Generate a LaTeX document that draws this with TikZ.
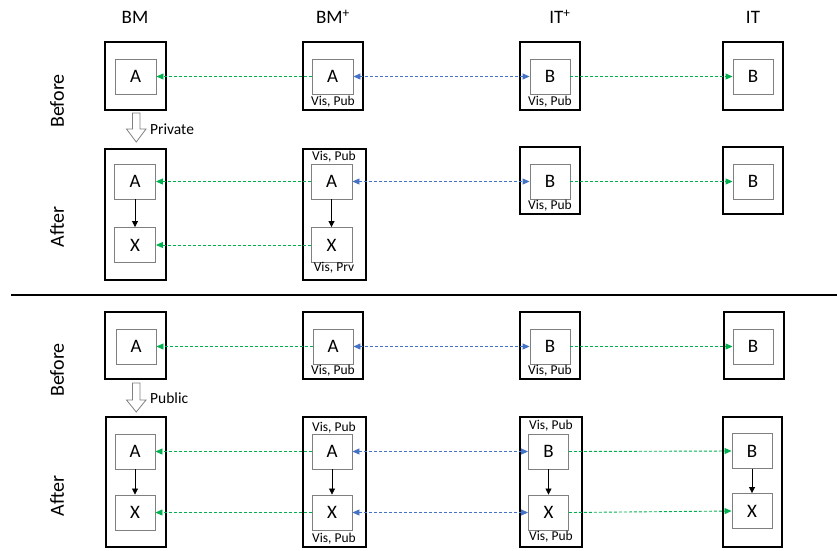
\documentclass[tikz,border=0pt]{standalone}
\usepackage{fontspec}
\setmainfont{Carlito}
\usetikzlibrary{arrows.meta}
\definecolor{cgreen}{HTML}{00B050}
\definecolor{cblue}{HTML}{4472C4}
\definecolor{cgray}{HTML}{808080}
\tikzset{
  outerbox/.style={draw=black, line width=2pt, minimum width=#1, inner sep=0pt},
  inbox/.style={draw=cgray, line width=0.9pt, minimum width=41pt, minimum height=35pt, inner sep=0pt, font=\fontsize{19}{22}\selectfont},
  title/.style={font=\fontsize{19}{22}\selectfont},
  phase/.style={font=\fontsize{20}{24}\selectfont, rotate=90},
  vis/.style={font=\fontsize{13.5}{15}\selectfont, inner sep=0pt},
  change/.style={font=\fontsize{15.5}{18}\selectfont, anchor=west, inner sep=0pt},
  greenarr/.style={draw=cgreen, line width=0.9pt, dash pattern=on 3pt off 2pt, -{Triangle[length=7pt,width=6pt]}},
  bluearr/.style={draw=cblue, line width=0.9pt, dash pattern=on 3pt off 2pt, {Triangle[length=7pt,width=6pt]}-{Triangle[length=7pt,width=6pt]}},
  downarr/.style={draw=black, line width=0.8pt, -{Triangle[length=6pt,width=6pt]}},
  blockarr/.style={draw=cgray, fill=white, line width=0.8pt, line join=miter},
}
\begin{document}
\begin{tikzpicture}[x=1pt,y=-1pt]
\useasboundingbox (0,0) rectangle (837,550);
% titles
\node[title] (tBM) at (135,17) {BM};
\node[title] (tBMp) at (333,17) {BM\textsuperscript{+}};
\node[title] (tITp) at (560,17) {IT\textsuperscript{+}};
\node[title] (tIT) at (753,17) {IT};
% phase labels
\node[phase] (ph1) at (57,101) {Before};
\node[phase] (ph2) at (57,227) {After};
\node[phase] (ph3) at (57,370) {Before};
\node[phase] (ph4) at (57,496) {After};

% ===== top section, before =====
\node[outerbox=61pt, minimum height=68pt] (o1a) at (135.5,76) {};
\node[outerbox=60pt, minimum height=68pt] (o1b) at (333,76) {};
\node[outerbox=60pt, minimum height=68pt] (o1c) at (550,76) {};
\node[outerbox=60pt, minimum height=68pt] (o1d) at (753,76) {};
\node[inbox] (a1) at (135.5,76.5) {A};
\node[inbox] (ap1) at (332.5,76.5) {A};
\node[inbox, minimum width=40pt] (bp1) at (550,76.5) {B};
\node[inbox, minimum width=40pt] (b1) at (753,76.5) {B};
\node[vis] (v1) at (333,102) {Vis, Pub};
\node[vis] (v2) at (550,102) {Vis, Pub};
\draw[greenarr] (ap1.west) -- (a1.east);
\draw[bluearr] (ap1.east) -- (bp1.west);
\draw[greenarr] (bp1.east) -- (b1.west);

% change arrow Private
\draw[blockarr] (132.5,113) -- (140,113) -- (140,129) -- (146,129) -- (136.25,142) -- (126.5,129) -- (132.5,129) -- cycle;
\node[change] (chg1) at (150,129) {Private};

% ===== top section, after =====
\node[outerbox=61pt, minimum height=131pt] (o2a) at (135.5,214.5) {};
\node[outerbox=63pt, minimum height=131pt] (o2b) at (334.5,214.5) {};
\node[outerbox=60pt, minimum height=67pt] (o2c) at (550,180.5) {};
\node[outerbox=60pt, minimum height=67pt] (o2d) at (753,180.5) {};
\node[inbox] (a2) at (135,181.5) {A};
\node[inbox] (x2) at (135,245) {X};
\node[inbox] (ap2) at (331.5,181.5) {A};
\node[inbox] (xp2) at (331.5,245) {X};
\node[inbox, minimum width=40pt] (bp2) at (550,181.5) {B};
\node[inbox, minimum width=40pt] (b2) at (753,181.5) {B};
\node[vis] (v3) at (334,157) {Vis, Pub};
\node[vis] (v4) at (334,268) {Vis, Prv};
\node[vis] (v5) at (550,206) {Vis, Pub};
\draw[downarr] (a2.south) -- (x2.north);
\draw[downarr] (ap2.south) -- (xp2.north);
\draw[greenarr] (ap2.west) -- (a2.east);
\draw[greenarr] (xp2.west) -- (x2.east);
\draw[bluearr] (ap2.east) -- (bp2.west);
\draw[greenarr] (bp2.east) -- (b2.west);

% separator
\coordinate (sepL) at (11,295);
\coordinate (sepR) at (837,295);
\draw[line width=2pt] (sepL) -- (sepR);

% ===== bottom section, before =====
\node[outerbox=61pt, minimum height=67pt] (o3a) at (135.5,345.5) {};
\node[outerbox=60pt, minimum height=67pt] (o3b) at (333,345.5) {};
\node[outerbox=60pt, minimum height=67pt] (o3c) at (550,345.5) {};
\node[outerbox=60pt, minimum height=67pt] (o3d) at (753.5,345.5) {};
\node[inbox, minimum width=40pt] (a3) at (136,346.5) {A};
\node[inbox, minimum width=40pt] (ap3) at (333,346.5) {A};
\node[inbox, minimum width=40pt] (bp3) at (550,346.5) {B};
\node[inbox, minimum width=40pt] (b3) at (753,346.5) {B};
\node[vis] (v6) at (333,371) {Vis, Pub};
\node[vis] (v7) at (550,371) {Vis, Pub};
\draw[greenarr] (ap3.west) -- (a3.east);
\draw[bluearr] (ap3.east) -- (bp3.west);
\draw[greenarr] (bp3.east) -- (b3.west);

% change arrow Public
\draw[blockarr] (132.5,383) -- (140,383) -- (140,400) -- (146,400) -- (136.25,412) -- (126.5,400) -- (132.5,400) -- cycle;
\node[change] (chg2) at (150,398) {Public};

% ===== bottom section, after =====
\node[outerbox=60pt, minimum height=130pt] (o4a) at (136,482) {};
\node[outerbox=63pt, minimum height=130pt] (o4b) at (334.5,482) {};
\node[outerbox=62pt, minimum height=130pt] (o4c) at (551,482) {};
\node[outerbox=59pt, minimum height=130pt] (o4d) at (752.5,482) {};
\node[inbox, minimum width=40pt] (a4) at (135,451.5) {A};
\node[inbox, minimum width=40pt] (x4) at (135,512.5) {X};
\node[inbox, minimum width=40pt] (ap4) at (332,451.5) {A};
\node[inbox, minimum width=40pt] (xp4) at (332,512.5) {X};
\node[inbox, minimum width=40pt] (bp4) at (548.5,451.5) {B};
\node[inbox, minimum width=40pt] (xq4) at (548.5,512.5) {X};
\node[inbox, minimum width=40pt] (b4) at (752,451) {B};
\node[inbox, minimum width=40pt] (xi4) at (752,511) {X};
\node[vis] (v8) at (334,428) {Vis, Pub};
\node[vis] (v9) at (334,539) {Vis, Pub};
\node[vis] (v10) at (551,426) {Vis, Pub};
\node[vis] (v11) at (551,537) {Vis, Pub};
\draw[downarr] (a4.south) -- (x4.north);
\draw[downarr] (ap4.south) -- (xp4.north);
\draw[downarr] (bp4.south) -- (xq4.north);
\draw[downarr] (b4.south) -- (xi4.north);
\draw[greenarr] (ap4.west) -- (a4.east);
\draw[greenarr] (xp4.west) -- (x4.east);
\draw[bluearr] (ap4.east) -- (bp4.west);
\draw[bluearr] (xp4.east) -- (xq4.west);
\draw[greenarr] (bp4.east) -- (b4.west);
\draw[greenarr] (xq4.east) -- (xi4.west);
\end{tikzpicture}
\end{document}
